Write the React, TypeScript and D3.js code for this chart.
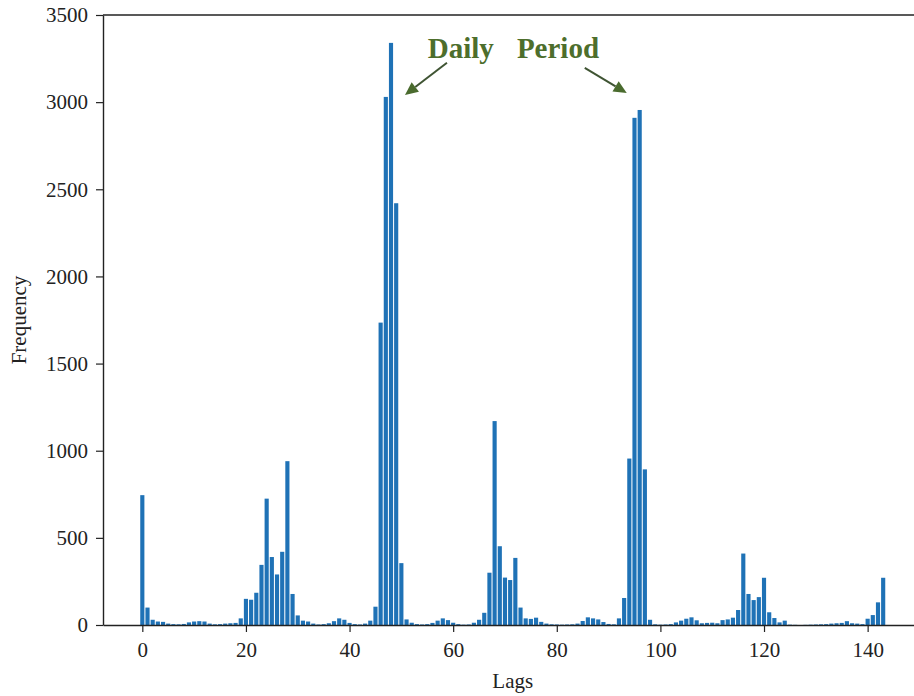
import React, { useEffect, useRef } from 'react';
import * as d3 from 'd3';

// frequency of each lag 0..143
const frequency: number[] = [
  745, 100, 30, 20, 18, 8, 5, 4, 6, 15,
  20, 22, 20, 8, 4, 5, 8, 10, 12, 38,
  150, 145, 185, 345, 725, 390, 290, 420, 940, 178,
  55, 25, 20, 8, 3, 5, 10, 22, 38, 30,
  12, 5, 3, 8, 25, 105, 1735, 3030, 3340, 2420,
  355, 32, 13, 5, 3, 5, 12, 25, 38, 28,
  13, 5, 2, 3, 13, 30, 70, 300, 1170, 452,
  272, 258, 385, 100, 38, 35, 42, 18, 8, 4,
  3, 2, 3, 4, 8, 23, 44, 38, 32, 17,
  6, 4, 38, 155, 955, 2910, 2955, 893, 30, 4,
  2, 3, 5, 15, 25, 36, 44, 27, 10, 12,
  13, 10, 28, 32, 42, 86, 410, 178, 143, 160,
  271, 73, 40, 15, 25, 2, 1, 0, 1, 2,
  3, 4, 5, 8, 10, 12, 22, 10, 8, 5,
  36, 57, 130, 271,
];
const lags = frequency.map((_, i) => i);

const xTicks = [0, 20, 40, 60, 80, 100, 120, 140];
const yTicks = [0, 500, 1000, 1500, 2000, 2500, 3000, 3500];

// annotation, in data coordinates (lag, frequency)
const labelDaily = { lag: 55.1, value: 3253, text: 'Daily' };
const labelPeriod = { lag: 72.3, value: 3253, text: 'Period' };
const arrows = [
  { from: [58.8, 3226], to: [50.7, 3041] },
  { from: [85.4, 3196], to: [93.5, 3052] },
];

const FONT = '"Liberation Serif", "Times New Roman", serif';

const App: React.FC = () => {
  const chartRef = useRef<SVGSVGElement | null>(null);

  useEffect(() => {
    const svg = d3.select(chartRef.current);
    svg.selectAll('*').remove();

    const width = 914;
    const height = 696;
    const left = 103;
    const right = 922.5;
    const top = 15;
    const bottom = 625;

    const x = d3.scaleLinear().domain([-7.59, 150.59]).range([left, right]);
    const y = d3.scaleLinear().domain([0, 3500]).range([bottom, top]);

    svg.attr('width', width).attr('height', height);
    svg.append('rect').attr('width', width).attr('height', height).attr('fill', '#fff');

    // bars
    const bw = x(0.8) - x(0);
    svg.append('g')
      .selectAll('rect')
      .data(lags)
      .join('rect')
      .attr('x', (d) => x(d) - bw / 2)
      .attr('width', bw)
      .attr('y', (d) => y(frequency[d]))
      .attr('height', (d) => y(0) - y(frequency[d]))
      .attr('fill', '#1f72b6');

    // axes
    const xAxis = svg.append('g')
      .attr('transform', `translate(0,${bottom})`)
      .call(d3.axisBottom(x).tickValues(xTicks).tickFormat(d3.format('d')).tickSize(7).tickSizeOuter(0).tickPadding(10));
    const yAxis = svg.append('g')
      .attr('transform', `translate(${left},0)`)
      .call(d3.axisLeft(y).tickValues(yTicks).tickFormat(d3.format('d')).tickSize(7).tickSizeOuter(0).tickPadding(8));

    [xAxis, yAxis].forEach((g) => {
      g.selectAll('text').attr('font-family', FONT).attr('font-size', 21).attr('fill', '#222');
      g.selectAll('line').attr('stroke', '#222').attr('stroke-width', 1.2);
      g.select('.domain').attr('stroke', '#222').attr('stroke-width', 1.4);
    });

    // top spine
    svg.append('line')
      .attr('x1', left).attr('x2', right)
      .attr('y1', top).attr('y2', top)
      .attr('stroke', '#222').attr('stroke-width', 1.4);

    // axis labels
    svg.append('text')
      .attr('x', (left + right) / 2)
      .attr('y', 688)
      .attr('text-anchor', 'middle')
      .attr('font-family', FONT)
      .attr('font-size', 21)
      .attr('fill', '#222')
      .text('Lags');

    svg.append('text')
      .attr('transform', `translate(26,${(top + bottom) / 2}) rotate(-90)`)
      .attr('text-anchor', 'middle')
      .attr('font-family', FONT)
      .attr('font-size', 21)
      .attr('fill', '#222')
      .text('Frequency');

    // annotation
    [labelDaily, labelPeriod].forEach((l) => {
      svg.append('text')
        .attr('x', x(l.lag))
        .attr('y', y(l.value))
        .attr('font-family', FONT)
        .attr('font-size', 29)
        .attr('font-weight', 'bold')
        .attr('fill', '#4d6e2c')
        .text(l.text);
    });

    arrows.forEach((a) => {
      const x1 = x(a.from[0]);
      const y1 = y(a.from[1]);
      const x2 = x(a.to[0]);
      const y2 = y(a.to[1]);
      const ang = Math.atan2(y2 - y1, x2 - x1);
      const headLen = 13;
      const headW = 6;
      const bx = x2 - headLen * Math.cos(ang);
      const by = y2 - headLen * Math.sin(ang);
      svg.append('line')
        .attr('x1', x1).attr('y1', y1)
        .attr('x2', bx).attr('y2', by)
        .attr('stroke', '#3f5433')
        .attr('stroke-width', 2);
      const px = -Math.sin(ang);
      const py = Math.cos(ang);
      svg.append('path')
        .attr('d', `M${x2},${y2}L${bx + px * headW},${by + py * headW}L${bx - px * headW},${by - py * headW}Z`)
        .attr('fill', '#4a6b2e');
    });
  }, []);

  return (
    <div style={{ position: 'absolute', left: 0, top: 0 }}>
      <svg ref={chartRef} width={914} height={696} style={{ display: 'block' }}></svg>
    </div>
  );
};

export default App;
